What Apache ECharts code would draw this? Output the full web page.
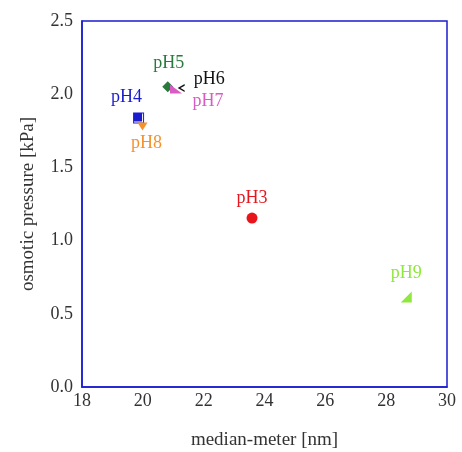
<!DOCTYPE html>
<html>
<head>
    <meta charset="UTF-8">
    <title>osmotic pressure</title>
    <script type="text/javascript" src="https://cdn.jsdelivr.net/npm/echarts@6/dist/echarts.min.js"></script>
    <style>
        html, body { margin: 0; padding: 0; background: #fff; }
    </style>
</head>
<body>
<div id="main" style="width: 462px;height:452px;"></div>
<script type="text/javascript">
    // data
    var names = ['pH3', 'pH4', 'pH5', 'pH6', 'pH7', 'pH8', 'pH9'];
    var medianMeter = [23.59, 19.86, 20.82, 21.26, 21.09, 19.99, 28.66];
    var osmoticPressure = [1.154, 1.837, 2.051, 2.042, 2.035, 1.78, 0.615];
    var xTicks = [18, 20, 22, 24, 26, 28, 30];
    var yTicks = [0.0, 0.5, 1.0, 1.5, 2.0, 2.5];

    // styles per point
    var colors = ['#e8161c', '#1c1ccf', '#2a7a3e', '#111111', '#d95cc4', '#f5922b', '#8fe83c'];
    var symbols = [
        'circle',
        'path://M0,0 L11,0 L11,11 L0,11 Z M1,1 L1,10 L10,10 L10,1 Z M1,1 L9,1 L9,9 L1,9 Z',
        'diamond',
        'path://M10,0 L0,5 L10,10 L10,8 L4,5 L10,2 Z',
        'path://M0,0 L10,8 L0,8 Z',
        'path://M0,0 L10,0 L5,8 Z',
        'path://M10,0 L10,10 L0,10 Z'
    ];
    var sizes = [11, 11, 11, [7, 8], [12, 9], [10, 8], [11, 11]];
    var labelOffsets = [[0, -20], [-12, -21], [1, -23], [28, -9], [32, 12], [4, 17], [0, -24]];

    var fontFamily = '"Liberation Serif", "Times New Roman", serif';
    var border = '#1c1ccf';

    var series = names.map(function (name, i) {
        return {
            name: name,
            type: 'scatter',
            symbol: symbols[i],
            symbolSize: sizes[i],
            itemStyle: { color: colors[i], opacity: 1 },
            label: {
                show: true,
                formatter: name,
                position: 'inside',
                offset: labelOffsets[i],
                color: colors[i],
                fontFamily: fontFamily,
                fontSize: 18
            },
            data: [[medianMeter[i], osmoticPressure[i]]]
        };
    });

    var myChart = echarts.init(document.getElementById('main'));
    var option = {
        animation: false,
        grid: {
            left: 82, right: 15, top: 21, bottom: 65,
            outerBoundsMode: 'none',
            show: true,
            borderColor: border,
            borderWidth: 1.5
        },
        xAxis: {
            type: 'value',
            min: xTicks[0],
            max: xTicks[xTicks.length - 1],
            interval: 2,
            name: 'median-meter [nm]',
            nameLocation: 'middle',
            nameGap: 44,
            nameTextStyle: { fontFamily: fontFamily, fontSize: 19, color: '#333' },
            axisLine: { lineStyle: { color: border, width: 1.5 } },
            axisTick: { show: false },
            splitLine: { show: false },
            axisLabel: { fontFamily: fontFamily, fontSize: 18, color: '#333', margin: 5 }
        },
        yAxis: {
            type: 'value',
            min: yTicks[0],
            max: yTicks[yTicks.length - 1],
            interval: 0.5,
            name: 'osmotic pressure [kPa]',
            nameLocation: 'middle',
            nameGap: 44,
            nameTextStyle: { fontFamily: fontFamily, fontSize: 19, color: '#333' },
            axisLine: { lineStyle: { color: border, width: 1.5 } },
            axisTick: { show: false },
            splitLine: { show: false },
            axisLabel: {
                fontFamily: fontFamily, fontSize: 18, color: '#333', margin: 9,
                formatter: function (v) { return v.toFixed(1); }
            }
        },
        series: series
    };
    myChart.setOption(option);
</script>
</body>
</html>
